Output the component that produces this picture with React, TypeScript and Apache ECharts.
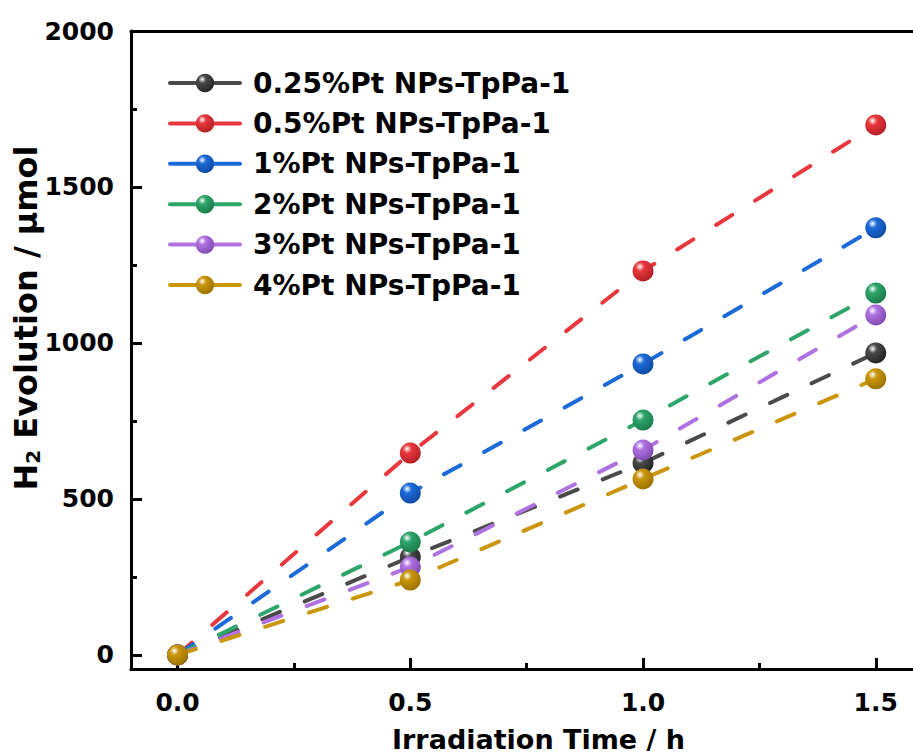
import React, { useEffect, useRef } from "react";
import * as echarts from "echarts";

const xValues = [0, 0.5, 1.0, 1.5];
const seriesNames = [
  "0.25%Pt NPs-TpPa-1",
  "0.5%Pt NPs-TpPa-1",
  "1%Pt NPs-TpPa-1",
  "2%Pt NPs-TpPa-1",
  "3%Pt NPs-TpPa-1",
  "4%Pt NPs-TpPa-1",
];
const pt025 = [0, 314, 615, 968];
const pt05 = [0, 647, 1231, 1699];
const pt1 = [0, 519, 933, 1369];
const pt2 = [0, 362, 753, 1160];
const pt3 = [0, 282, 657, 1090];
const pt4 = [0, 240, 564, 885];
const seriesValues = [pt025, pt05, pt1, pt2, pt3, pt4];
const colors = ["#4a4a4a", "#e8383d", "#1c6ad8", "#2ea56b", "#b072e0", "#c9960c"];
const darkColors = ["#222222", "#b01e22", "#0f4aa0", "#1a7a4a", "#8048b0", "#9a7000"];

const xMajorTicks = [0, 0.5, 1.0, 1.5];
const xMinorTicks = [0.25, 0.75, 1.25];
const yMajorTicks = [0, 500, 1000, 1500, 2000];
const yMinorTicks = [250, 750, 1250, 1750];

const FONT = "DejaVu Sans";

export default function App() {
  const ref = useRef<HTMLDivElement>(null);
  useEffect(() => {
    if (!ref.current) return;
    const chart = echarts.init(ref.current, null, { renderer: "svg" });
    const sphere = (i: number) =>
      new echarts.graphic.RadialGradient(0.35, 0.3, 0.75, [
        { offset: 0, color: "#ffffff" },
        { offset: 0.28, color: colors[i] },
        { offset: 1, color: darkColors[i] },
      ]);
    const axisLine = { show: true, onZero: false, lineStyle: { color: "#000", width: 3 } };
    const noLine = { show: false, onZero: false };
    chart.setOption({
      animation: false,
      backgroundColor: "#fff",
      grid: {
        left: 131,
        top: 31,
        right: 0,
        bottom: 87,
        containLabel: false,
        outerBoundsMode: "none",
      },
      legend: {
        orient: "vertical",
        left: 163,
        top: 64,
        itemWidth: 70,
        itemHeight: 23,
        itemGap: 12.4,
        data: seriesNames,
        lineStyle: { type: "solid", width: 4 },
        textStyle: {
          fontFamily: FONT,
          fontWeight: "bold",
          fontSize: 28,
          color: "#000",
          padding: [0, 0, 0, 8],
        },
      },
      xAxis: [
        {
          type: "value",
          min: -0.1,
          max: 1.58,
          position: "bottom",
          axisLine,
          splitLine: { show: false },
          axisTick: {
            show: true,
            inside: true,
            length: 11,
            customValues: xMajorTicks,
            lineStyle: { color: "#000", width: 3 },
          },
          axisLabel: {
            customValues: xMajorTicks,
            formatter: (v: number) => v.toFixed(1),
            fontFamily: FONT,
            fontWeight: "bold",
            fontSize: 25,
            color: "#000",
            margin: 21,
          },
        },
        {
          type: "value",
          min: -0.1,
          max: 1.58,
          position: "bottom",
          axisLine: noLine,
          splitLine: { show: false },
          axisTick: {
            show: true,
            inside: true,
            length: 6,
            customValues: xMinorTicks,
            lineStyle: { color: "#000", width: 3 },
          },
          axisLabel: { show: false },
        },
        {
          type: "value",
          min: -0.1,
          max: 1.58,
          position: "top",
          axisLine,
          splitLine: { show: false },
          axisTick: { show: false },
          axisLabel: { show: false },
        },
      ],
      yAxis: [
        {
          type: "value",
          min: -45,
          max: 2000,
          position: "left",
          axisLine,
          splitLine: { show: false },
          axisTick: {
            show: true,
            inside: true,
            length: 11,
            customValues: yMajorTicks,
            lineStyle: { color: "#000", width: 3 },
          },
          axisLabel: {
            customValues: yMajorTicks,
            formatter: (v: number) => String(v),
            fontFamily: FONT,
            fontWeight: "bold",
            fontSize: 25,
            color: "#000",
            margin: 17,
          },
        },
        {
          type: "value",
          min: -45,
          max: 2000,
          position: "left",
          axisLine: noLine,
          splitLine: { show: false },
          axisTick: {
            show: true,
            inside: true,
            length: 6,
            customValues: yMinorTicks,
            lineStyle: { color: "#000", width: 3 },
          },
          axisLabel: { show: false },
        },
      ],
      graphic: [
        {
          type: "text",
          left: 539 - 147,
          top: 726,
          style: {
            text: "Irradiation Time / h",
            fontFamily: FONT,
            fontWeight: "bold",
            fontSize: 27,
            fill: "#000",
          },
        },
        {
          type: "text",
          x: 26,
          y: 318,
          rotation: Math.PI / 2,
          style: {
            text: "{a|H}{b|2}{a| Evolution / μmol}",
            align: "center",
            verticalAlign: "middle",
            rich: {
              a: { fontFamily: FONT, fontWeight: "bold", fontSize: 32, fill: "#000", lineHeight: 32 },
              b: {
                fontFamily: FONT,
                fontWeight: "bold",
                fontSize: 20,
                fill: "#000",
                padding: [14, 0, 0, 0],
              },
            },
          },
        },
      ],
      series: seriesNames.map((name, i) => ({
        name,
        type: "line",
        xAxisIndex: 0,
        yAxisIndex: 0,
        data: xValues.map((x, j) => [x, seriesValues[i][j]]),
        symbol: "circle",
        symbolSize: 21,
        lineStyle: { color: colors[i], width: 4, type: [19, 27], cap: "round" },
        itemStyle: { color: sphere(i), borderWidth: 0 },
        z: 2 + i,
      })),
    });
    return () => chart.dispose();
  }, []);
  return (
    <div
      ref={ref}
      style={{ position: "absolute", left: 0, top: 0, width: 913, height: 756 }}
    />
  );
}
